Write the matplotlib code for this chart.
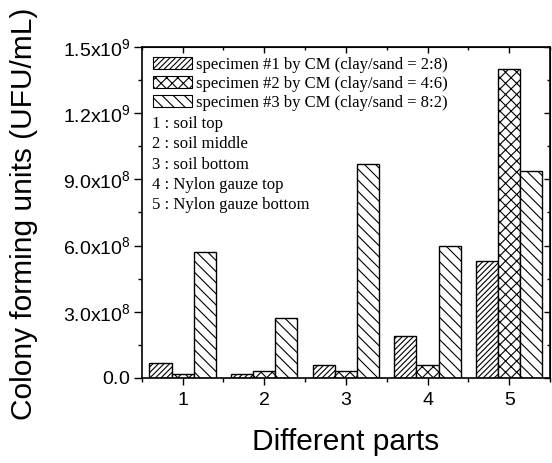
import numpy as np
import matplotlib
matplotlib.use("Agg")
import matplotlib.pyplot as plt
from matplotlib.patches import Patch
from matplotlib.ticker import FixedLocator, FuncFormatter, MultipleLocator

plt.rcParams["font.family"] = ["Liberation Sans", "DejaVu Sans"]
plt.rcParams["mathtext.fontset"] = "custom"
plt.rcParams["mathtext.rm"] = "Liberation Sans"
plt.rcParams["hatch.linewidth"] = 0.8

# data (CFU/mL)
parts = [1, 2, 3, 4, 5]
specimen1 = [7.0e7, 2.0e7, 6.0e7, 1.9e8, 5.3e8]
specimen2 = [2.0e7, 3.0e7, 3.0e7, 6.0e7, 1.40e9]
specimen3 = [5.7e8, 2.7e8, 9.7e8, 6.0e8, 9.4e8]
series_labels = [
    "specimen #1 by CM (clay/sand = 2:8)",
    "specimen #2 by CM (clay/sand = 4:6)",
    "specimen #3 by CM (clay/sand = 8:2)",
]
part_notes = [
    "1 : soil top",
    "2 : soil middle",
    "3 : soil bottom",
    "4 : Nylon gauze top",
    "5 : Nylon gauze bottom",
]
y_ticks = [0.0, 3.0e8, 6.0e8, 9.0e8, 1.2e9, 1.5e9]
y_ticklabels = ["0.0", "3.0x10^{8}", "6.0x10^{8}", "9.0x10^{8}", "1.2x10^{9}", "1.5x10^{9}"]

hatches = ["//////", "xxx", "\\\\\\"]
width = 0.27

fig = plt.figure(figsize=(5.52, 4.63), dpi=100)
ax = fig.add_axes([0.2567, 0.1836, 0.7397, 0.7149])

x = np.array(parts, dtype=float)
for i, vals in enumerate([specimen1, specimen2, specimen3]):
    ax.bar(x + (i - 1) * width, vals, width, color="white", edgecolor="black",
           hatch=hatches[i], linewidth=1.0, zorder=2)

ax.set_xlim(0.5, 5.5)
ax.set_ylim(0, 1.5e9)

ax.xaxis.set_major_locator(FixedLocator(parts))
ax.xaxis.set_minor_locator(MultipleLocator(0.5))
ax.yaxis.set_major_locator(FixedLocator(y_ticks))
ax.yaxis.set_minor_locator(MultipleLocator(1.5e8))
ax.yaxis.set_major_formatter(FuncFormatter(
    lambda v, p: r"$\mathregular{" + y_ticklabels[y_ticks.index(v)] + "}$"
    if v in y_ticks else ""))

ax.tick_params(axis="both", which="major", direction="out", labelsize=14, width=1.0)
ax.tick_params(axis="x", which="major", length=5, pad=5)
ax.tick_params(axis="y", which="major", length=6, pad=2)
ax.tick_params(axis="both", which="minor", direction="out", length=3, width=1.0)
for s in ax.spines.values():
    s.set_linewidth(1.2)

# mirrored inward ticks on top and right
top = ax.secondary_xaxis("top")
top.xaxis.set_major_locator(FixedLocator(parts))
top.xaxis.set_minor_locator(MultipleLocator(0.5))
top.tick_params(which="both", direction="in", labeltop=False, length=4, width=1.0)
top.tick_params(which="minor", length=2)
right = ax.secondary_yaxis("right")
right.yaxis.set_major_locator(FixedLocator(y_ticks))
right.yaxis.set_minor_locator(MultipleLocator(1.5e8))
right.tick_params(which="both", direction="in", labelright=False, length=4, width=1.0)
right.tick_params(which="minor", length=2)

fig.text(24 / 552, 1 - 214 / 463, "Colony forming units (UFU/mL)", rotation=90,
         ha="center", va="center", fontsize=21.5)
fig.text(345.8 / 552, 1 - 450 / 463, "Different parts", ha="center", va="baseline",
         fontsize=21.5)

handles = [Patch(facecolor="white", edgecolor="black", hatch=h, linewidth=0.8) for h in hatches]
ax.legend(handles, series_labels, loc="upper left", bbox_to_anchor=(0.012, 0.99),
          frameon=False, prop={"family": "Liberation Serif", "size": 12},
          handlelength=2.3, handleheight=0.75, handletextpad=0.25, labelspacing=0.18,
          borderaxespad=0.0)

for k, note in enumerate(part_notes):
    ax.text(0.025, (378 - 124.3 - 20.2 * k) / 331, note, transform=ax.transAxes,
            ha="left", va="center", family="Liberation Serif", fontsize=12)

fig.savefig("out.png", dpi=100)
